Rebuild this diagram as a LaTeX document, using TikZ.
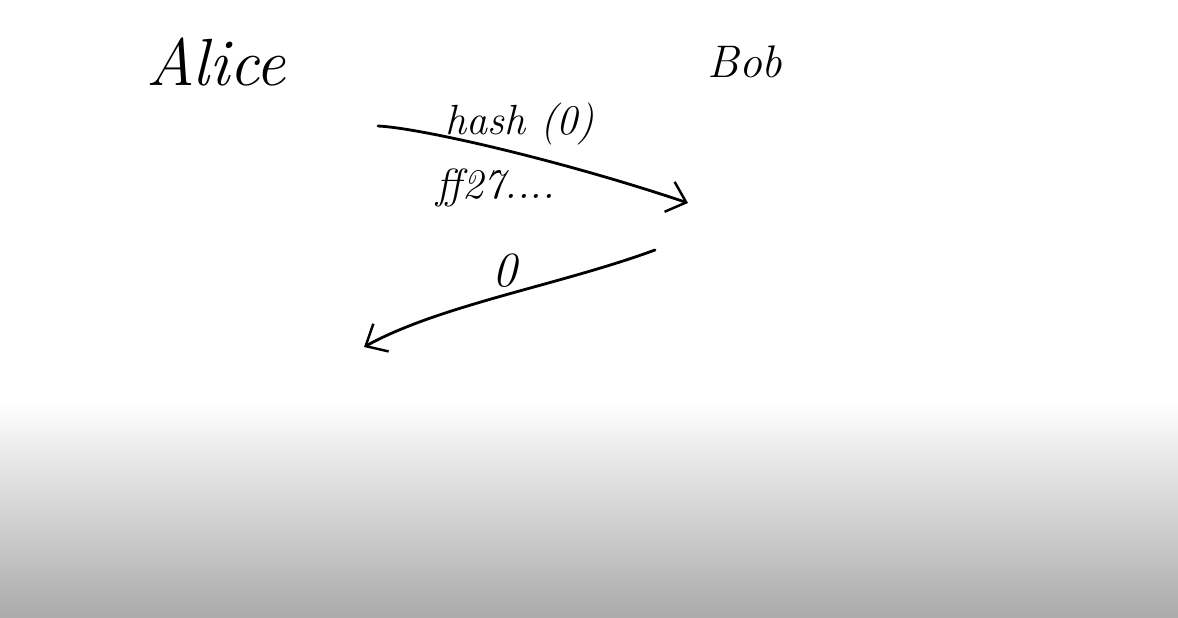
\documentclass[tikz,border=0pt]{standalone}
\usepackage{fontspec}
\usetikzlibrary{positioning,arrows.meta}
\tikzset{
  hand/.style={font=\itshape\fontsize{34}{38}\selectfont, inner sep=0pt},
  small hand/.style={font=\itshape\fontsize{24}{28}\selectfont, inner sep=0pt},
  msg/.style={line width=1.6pt, line cap=round, -{Straight Barb[length=10pt,width=18pt,line width=1.4pt]}},
}

\begin{document}
\begin{tikzpicture}[x=0.02cm,y=-0.02cm]
  % page and grey band at the bottom
  \useasboundingbox (0,0) rectangle (1178,618);
  \fill[white] (0,0) rectangle (1178,400);
  \shade[top color=white, bottom color=black!33] (0,400) rectangle (1178,618);

  % the two parties
  \node[hand, font=\itshape\fontsize{38}{42}\selectfont] (alice) at (216,62) {Alice};
  \node[hand, font=\itshape\fontsize{26}{30}\selectfont] (bob) at (745,62) {Bob};

  % first message
  \coordinate (s1) at (378,126);
  \coordinate (e1) at (688,203);
  \draw[msg] (s1) .. controls (420,128) and (560,160) .. (e1);
  \node[small hand] (hash) at (520,124) {hash (0)};
  \node[small hand] (ff) at (496,188) {ff27....};

  % answer
  \coordinate (s2) at (655,250);
  \coordinate (e2) at (364,347);
  \draw[msg] (s2) .. controls (560,285) and (440,305) .. (e2);
  \node[small hand, font=\itshape\fontsize{28}{32}\selectfont] (zero) at (505,271) {0};
\end{tikzpicture}
\end{document}
